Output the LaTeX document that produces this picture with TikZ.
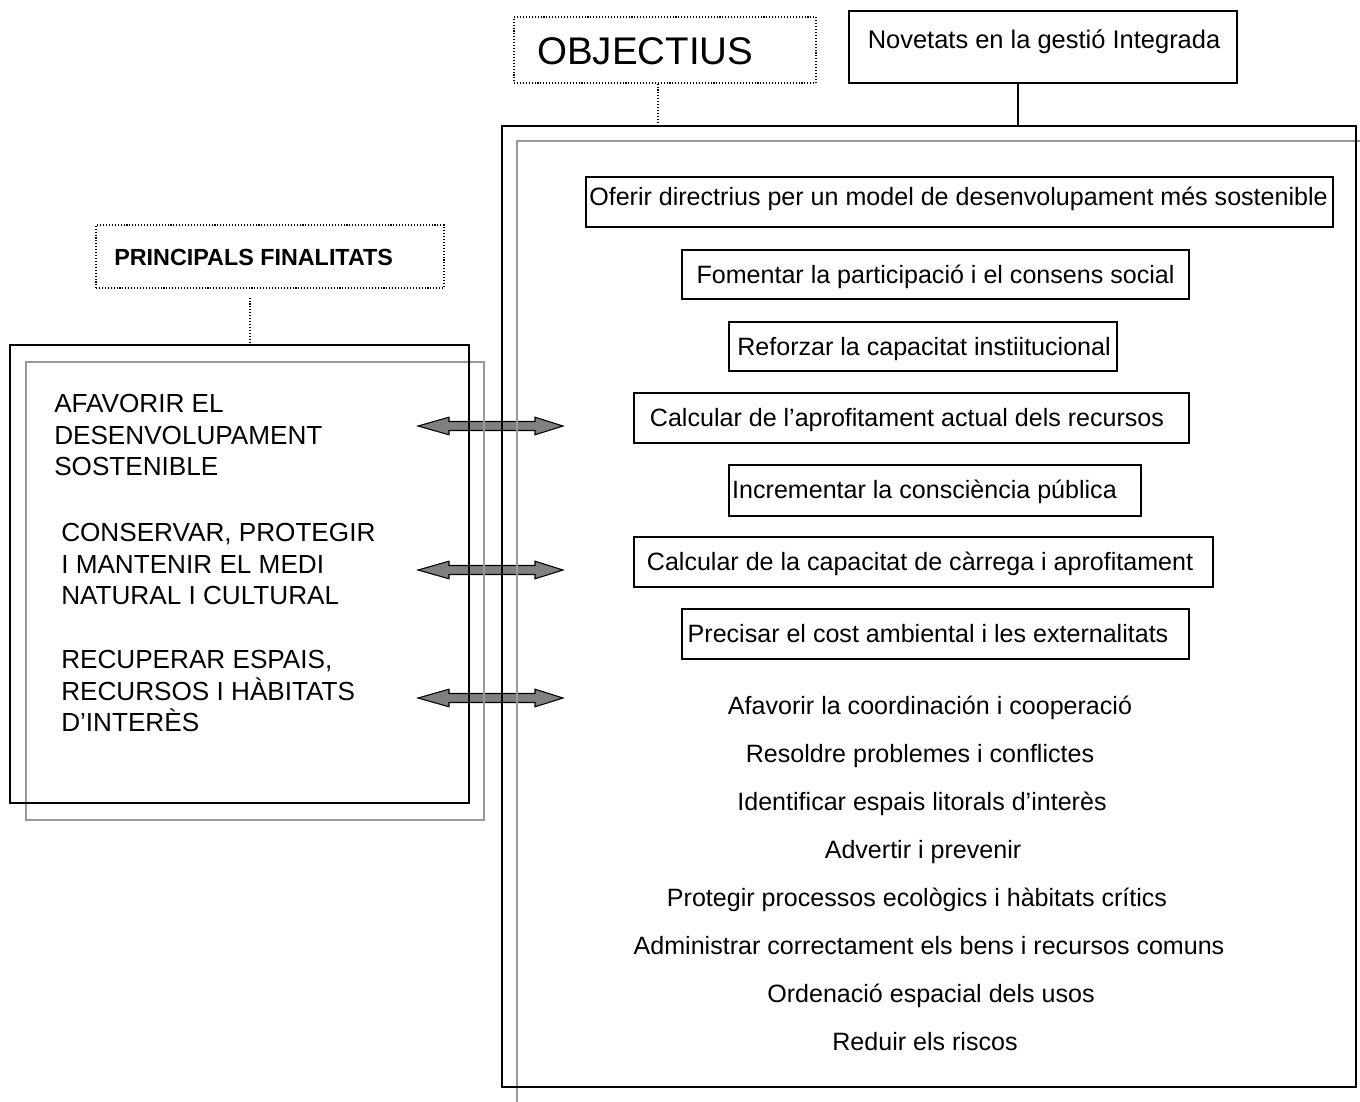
\documentclass[tikz,border=0pt]{standalone}
\usepackage{fontspec}
\setmainfont{Liberation Sans}
\begin{document}
\begin{tikzpicture}[x=0.75pt,y=-0.75pt,
  frame/.style={draw=black,line width=1.1pt,inner sep=0pt},
  shadowline/.style={draw=black!40,line width=1.1pt},
  dotline/.style={draw=black,line width=0.9pt,dash pattern=on 0.8pt off 1.4pt},
  dotbox/.style={dotline,inner sep=0pt},
  objbox/.style={draw=black,line width=1pt,inner sep=0pt},
  body/.style={font=\fontsize{18.8}{22.5}\selectfont,inner sep=0pt,anchor=base},
  caps/.style={font=\fontsize{19.6}{23.6}\selectfont,inner sep=0pt,anchor=north west,align=left},
  dblarrow/.style={draw=black,fill=black!50,line width=0.8pt,line join=miter}
]
\useasboundingbox (0,0) rectangle (1360,1101);
\begin{scope}
\clip (0,0) rectangle (1360,1101);

% double block arrows linking the aims to the objectives
\foreach \y [count=\i] in {426,570,698} {
  \coordinate (al\i) at (418,\y);
  \coordinate (ar\i) at (563,\y);
  \draw[dblarrow] (al\i) -- ++(31,-8.8) -- ++(0,4.3)
    -- ([shift={(-28,-4.5)}]ar\i) -- ++(0,-4.3) -- (ar\i)
    -- ++(-28,8.8) -- ++(0,-4.3)
    -- ([shift={(31,4.5)}]al\i) -- ++(0,4.3) -- cycle;
}

% grey offset frames behind the two panels
\draw[shadowline] (26,362) rectangle (484,820);
\draw[shadowline] (517,1110) -- (517,141) -- (1370,141);

% main panels
\node[frame,minimum width=459*0.75pt,minimum height=458*0.75pt] (fin) at (239.5,574) {};
\node[frame,minimum width=854*0.75pt,minimum height=961*0.75pt] (panel) at (929,606.5) {};
\end{scope}

% headings
\node[dotbox,minimum width=302*0.75pt,minimum height=66*0.75pt] (objectius) at (665,50) {};
\node[anchor=base west,inner sep=0pt,font=\fontsize{28.9}{32}\selectfont] (objtitle) at (537,64) {OBJECTIUS};

\node[frame,minimum width=388*0.75pt,minimum height=72*0.75pt] (novetats) at (1043,47) {};
\node[inner sep=0pt,anchor=base,font=\fontsize{19.1}{23}\selectfont] (novtitle) at (1044,48) {Novetats en la gestió Integrada};

\node[dotbox,minimum width=348*0.75pt,minimum height=63*0.75pt] (principals) at (270,256.5) {};
\node[anchor=base west,inner sep=0pt,font=\fontsize{17.5}{20}\selectfont\bfseries] (printitle) at (114,265) {PRINCIPALS FINALITATS};

% connectors from headings to panels
\coordinate (objx) at (658,0);
\coordinate (novx) at (1018,0);
\coordinate (finx) at (250,0);
\draw[dotline] (objectius.south -| objx) -- (panel.north -| objx);
\draw[line width=1.1pt] (novetats.south -| novx) -- (panel.north -| novx);
\draw[dotline,shorten <=6.75pt] (principals.south -| finx) -- (fin.north -| finx);

% principal aims
\node[caps] (aim1) at (54,394.3) {AFAVORIR EL\\DESENVOLUPAMENT\\SOSTENIBLE};
\node[caps] (aim2) at (61,523.3) {CONSERVAR, PROTEGIR\\I MANTENIR EL MEDI\\NATURAL I CULTURAL};
\node[caps] (aim3) at (61,650.3) {RECUPERAR ESPAIS,\\RECURSOS I HÀBITATS\\D’INTERÈS};

% boxed objectives
\node[objbox,minimum width=747*0.75pt,minimum height=50*0.75pt] (o1) at (959.5,202) {};
\node[body] (o1t) at (958.5,205) {Oferir directrius per un model de desenvolupament més sostenible};
\node[objbox,minimum width=507*0.75pt,minimum height=49*0.75pt] (o2) at (935.5,274.5) {};
\node[body] (o2t) at (935.5,283) {Fomentar la participació i el consens social};
\node[objbox,minimum width=388*0.75pt,minimum height=49*0.75pt] (o3) at (923,346.5) {};
\node[body] (o3t) at (924,355) {Reforzar la capacitat instiitucional};
\node[objbox,minimum width=555*0.75pt,minimum height=50*0.75pt] (o4) at (911.5,418) {};
\node[body] (o4t) at (907,426) {Calcular de l’aprofitament actual dels recursos};
\node[objbox,minimum width=412*0.75pt,minimum height=51*0.75pt] (o5) at (935,490.5) {};
\node[body] (o5t) at (924.5,498) {Incrementar la consciència pública};
\node[objbox,minimum width=579*0.75pt,minimum height=50*0.75pt] (o6) at (923.5,562) {};
\node[body] (o6t) at (920,570) {Calcular de la capacitat de càrrega i aprofitament};
\node[objbox,minimum width=507*0.75pt,minimum height=50*0.75pt] (o7) at (935.5,634) {};
\node[body] (o7t) at (928,642) {Precisar el cost ambiental i les externalitats};

% further objectives
\node[body] (p1) at (930,714) {Afavorir la coordinación i cooperació};
\node[body] (p2) at (920,762) {Resoldre problemes i conflictes};
\node[body] (p3) at (922,810) {Identificar espais litorals d’interès};
\node[body] (p4) at (923,858) {Advertir i prevenir};
\node[body] (p5) at (917,906) {Protegir processos ecològics i hàbitats crítics};
\node[body] (p6) at (929,954) {Administrar correctament els bens i recursos comuns};
\node[body] (p7) at (931,1002) {Ordenació espacial dels usos};
\node[body] (p8) at (925,1050) {Reduir els riscos};
\end{tikzpicture}
\end{document}
